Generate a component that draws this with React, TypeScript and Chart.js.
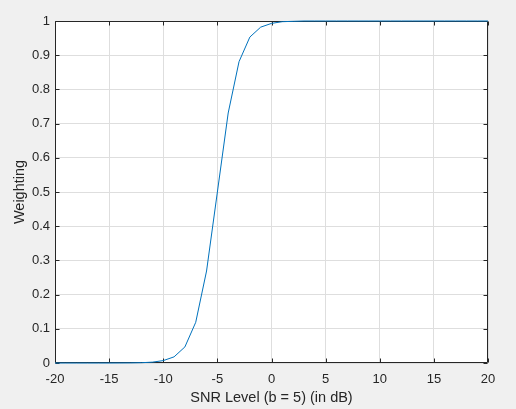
import React, { useEffect, useRef } from "react";
import { Chart, registerables } from "chart.js";

Chart.register(...registerables);

const snrLevels = [
  -20, -19, -18, -17, -16, -15, -14, -13, -12, -11, -10, -9, -8, -7, -6, -5, -4, -3, -2, -1,
  0, 1, 2, 3, 4, 5, 6, 7, 8, 9, 10, 11, 12, 13, 14, 15, 16, 17, 18, 19, 20,
];
const weighting = [
  0, 0, 0, 0, 0, 0, 0.0001, 0.0003, 0.0009, 0.0025, 0.007, 0.018, 0.047, 0.119, 0.269, 0.5,
  0.731, 0.881, 0.953, 0.982, 0.993, 0.998, 0.999, 1, 1, 1, 1, 1, 1, 1, 1, 1, 1, 1, 1, 1, 1,
  1, 1, 1, 1,
];
const xTitle = "SNR Level (b = 5) (in dB)";
const yTitle = "Weighting";

const AXIS = "#262626";
const GRID = "#dedede";
const FONT = "'Liberation Sans', Arial, Helvetica, sans-serif";

const framePlugin = {
  id: "matlabFrame",
  beforeDraw(chart: any) {
    const { ctx, chartArea: a } = chart;
    ctx.save();
    ctx.fillStyle = "#f0f0f0";
    ctx.fillRect(0, 0, chart.width, chart.height);
    ctx.fillStyle = "#ffffff";
    ctx.fillRect(a.left, a.top, a.right - a.left, a.bottom - a.top);
    ctx.restore();
  },
  beforeDatasetsDraw(chart: any) {
    const { ctx, chartArea: a, scales } = chart;
    const L = Math.round(a.left) + 0.5;
    const R = Math.round(a.right) - 0.5;
    const T = Math.round(a.top) + 0.5;
    const B = Math.round(a.bottom) - 0.5;
    ctx.save();
    ctx.strokeStyle = AXIS;
    ctx.lineWidth = 1;
    ctx.beginPath();
    ctx.rect(L, T, R - L, B - T);
    const len = 4;
    scales.x.ticks.forEach((t: any) => {
      const px = Math.round(scales.x.getPixelForValue(t.value)) + 0.5;
      ctx.moveTo(px, B);
      ctx.lineTo(px, B - len);
      ctx.moveTo(px, T);
      ctx.lineTo(px, T + len);
    });
    scales.y.ticks.forEach((t: any) => {
      const py = Math.round(scales.y.getPixelForValue(t.value)) + 0.5;
      ctx.moveTo(L, py);
      ctx.lineTo(L + len, py);
      ctx.moveTo(R, py);
      ctx.lineTo(R - len, py);
    });
    ctx.stroke();
    ctx.restore();
  },
};

export default function App() {
  const ref = useRef<HTMLCanvasElement | null>(null);
  useEffect(() => {
    if (!ref.current) return;
    const chart = new Chart(ref.current, {
      type: "line",
      data: {
        datasets: [
          {
            data: snrLevels.map((x, i) => ({ x, y: weighting[i] })),
            borderColor: "#0072BD",
            borderWidth: 1,
            pointRadius: 0,
            tension: 0,
            fill: false,
            clip: false as any,
          },
        ],
      },
      options: {
        animation: false,
        responsive: false,
        devicePixelRatio: 1,
        layout: { padding: { left: 0, top: 21, right: 28, bottom: 0 } },
        plugins: { legend: { display: false }, tooltip: { enabled: false } },
        scales: {
          x: {
            type: "linear",
            min: -20,
            max: 20,
            afterFit: (s: any) => {
              s.height = 46;
            },
            ticks: {
              stepSize: 5,
              padding: 9,
              color: AXIS,
              font: { family: FONT, size: 13 },
              maxRotation: 0,
            },
            grid: { color: GRID, drawTicks: false, lineWidth: 1 },
            border: { display: false },
            title: {
              display: true,
              text: xTitle,
              color: AXIS,
              font: { family: FONT, size: 14.5 },
              padding: { top: 0, bottom: 2 },
            },
          },
          y: {
            type: "linear",
            min: 0,
            max: 1,
            afterFit: (s: any) => {
              s.width = 55;
            },
            ticks: {
              stepSize: 0.1,
              padding: 5,
              color: AXIS,
              font: { family: FONT, size: 13 },
              callback: (v: any) => String(Math.round(Number(v) * 10) / 10),
            },
            grid: { color: GRID, drawTicks: false, lineWidth: 1 },
            border: { display: false },
            title: {
              display: true,
              text: yTitle,
              color: AXIS,
              font: { family: FONT, size: 14.5 },
              padding: { top: 11, bottom: 0 },
            },
          },
        },
      },
      plugins: [framePlugin],
    });
    return () => chart.destroy();
  }, []);
  return (
    <div style={{ position: "fixed", left: 0, top: 0, width: 516, height: 409, background: "#f0f0f0" }}>
      <canvas ref={ref} width={516} height={409} style={{ display: "block" }} />
    </div>
  );
}
